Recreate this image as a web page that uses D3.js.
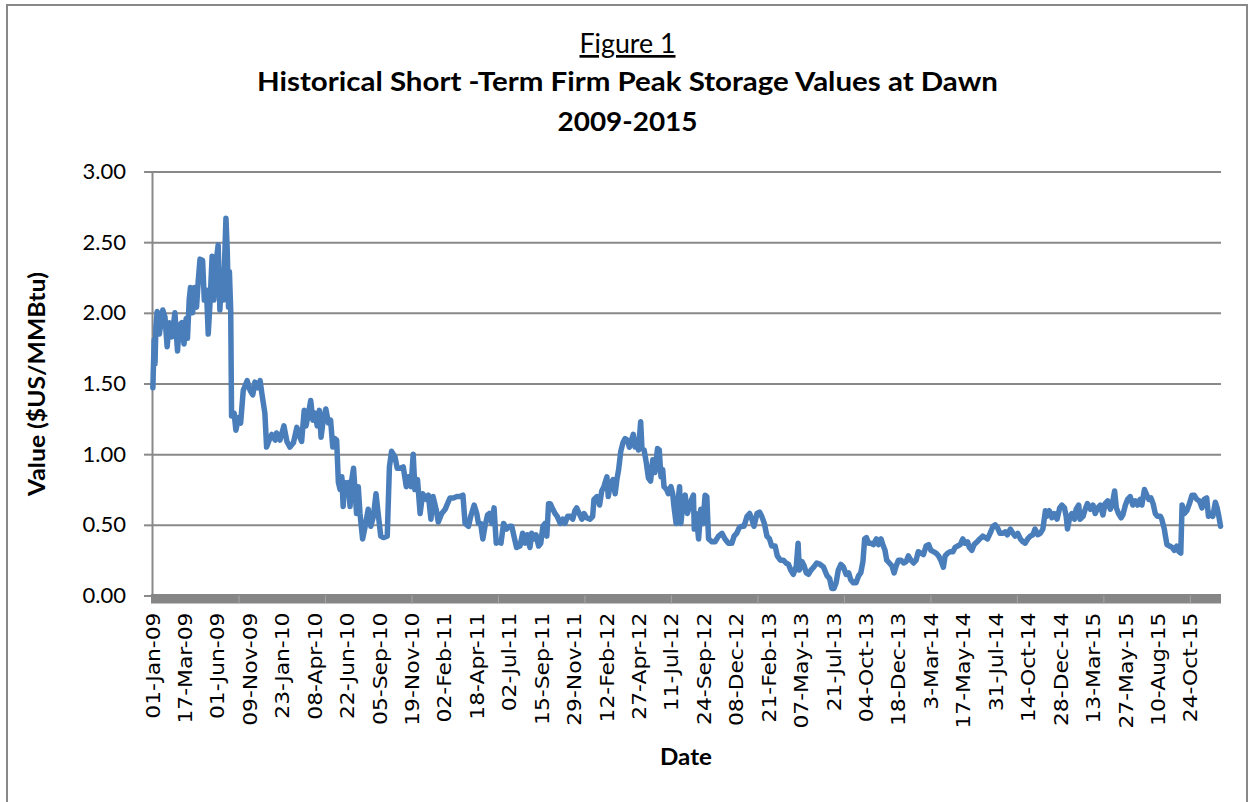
<!DOCTYPE html>
<html><head><meta charset="utf-8">
<script src="https://cdn.jsdelivr.net/npm/d3@7"></script>
<style>body{margin:0;background:#fff;} svg{display:block;}</style>
</head><body><svg id="c" width="1251" height="802"></svg>
<script>
// Category (day) axis labels, one every 75 categories
const tickLabels = ["01-Jan-09","17-Mar-09","01-Jun-09","09-Nov-09","23-Jan-10","08-Apr-10","22-Jun-10","05-Sep-10","19-Nov-10","02-Feb-11","18-Apr-11","02-Jul-11","15-Sep-11","29-Nov-11","12-Feb-12","27-Apr-12","11-Jul-12","24-Sep-12","08-Dec-12","21-Feb-13","07-May-13","21-Jul-13","04-Oct-13","18-Dec-13","3-Mar-14","17-May-14","31-Jul-14","14-Oct-14","28-Dec-14","13-Mar-15","27-May-15","10-Aug-15","24-Oct-15"];
const yTicks = [0, 0.5, 1, 1.5, 2, 2.5, 3];
const categoryCount = 2473;
const labelEvery = 75;
const minorEvery = 200;

// [category index, value $US/MMBtu]
const seg2009 = [[2,1.47],[5,1.81],[7,1.64],[9,1.90],[12,2.01],[17,1.85],[25,2.02],[30,1.97],[35,1.76],[40,1.93],[46,1.83],[53,2.00],[59,1.73],[63,1.91],[69,1.93],[74,1.78],[79,1.96],[82,1.82],[86,2.09],[89,2.18],[94,2.00],[98,2.18],[103,2.04],[107,2.23],[111,2.38],[117,2.37],[121,2.09],[126,2.16],[130,1.85],[134,2.06],[139,2.40],[143,2.09],[148,2.35],[153,2.48],[157,2.02],[161,2.28],[165,2.09],[171,2.67],[174,2.44],[177,2.04],[179,2.29],[182,2.02],[184,1.27],[190,1.29],[194,1.17],[200,1.26],[205,1.22],[211,1.45],[220,1.52],[227,1.45],[233,1.42],[238,1.51],[244,1.47],[250,1.52],[254,1.43],[261,1.29],[265,1.05],[271,1.10],[277,1.14],[285,1.10],[288,1.15],[296,1.10],[305,1.20],[312,1.09],[319,1.05],[327,1.08],[335,1.19],[342,1.12]];
const seg2010 = [[346,1.09],[352,1.31],[356,1.20],[362,1.29],[367,1.38],[372,1.24],[377,1.29],[382,1.20],[387,1.31],[391,1.12],[396,1.24],[402,1.32],[408,1.22],[413,1.24],[418,1.05],[423,1.11],[427,1.10],[431,0.80],[435,0.75],[439,0.84],[442,0.63],[446,0.80],[450,0.72],[454,0.80],[458,0.63],[462,0.82],[466,0.90],[470,0.72],[473,0.58],[477,0.77],[481,0.58],[487,0.40],[493,0.49],[500,0.61],[506,0.49],[512,0.56],[518,0.72],[523,0.58],[529,0.42],[535,0.41],[544,0.42],[549,0.91],[554,1.02],[562,0.98],[567,0.90],[574,0.90],[581,0.91],[588,0.77],[593,0.84],[599,0.77],[604,1.00],[608,0.75],[614,0.82],[620,0.58],[626,0.72],[634,0.68],[639,0.71],[645,0.54],[650,0.70],[657,0.61],[662,0.52],[670,0.58],[678,0.61],[682,0.64],[689,0.69],[697,0.69],[705,0.70],[712,0.70],[719,0.71],[724,0.51],[732,0.49],[737,0.56]];
const seg2011 = [[745,0.64],[751,0.58],[755,0.51],[760,0.51],[765,0.40],[770,0.49],[776,0.57],[780,0.58],[786,0.51],[791,0.62],[796,0.37],[801,0.38],[807,0.37],[813,0.51],[820,0.47],[827,0.49],[832,0.49],[837,0.42],[843,0.34],[851,0.35],[857,0.44],[863,0.37],[868,0.43],[874,0.34],[878,0.44],[884,0.40],[888,0.43],[894,0.35],[899,0.37],[904,0.49],[909,0.51],[913,0.42],[917,0.65],[921,0.65],[927,0.61],[932,0.58],[937,0.56],[944,0.51],[950,0.54],[955,0.51],[961,0.56],[967,0.56],[973,0.54],[978,0.60],[982,0.62],[988,0.58],[994,0.54],[999,0.58],[1005,0.55],[1013,0.54],[1019,0.56],[1022,0.68],[1029,0.70],[1035,0.64],[1040,0.74],[1045,0.77],[1052,0.84],[1055,0.70],[1059,0.77],[1066,0.82],[1071,0.72],[1075,0.82],[1079,0.89],[1084,1.02],[1089,1.08],[1094,1.11],[1099,1.10],[1104,1.05],[1110,1.11],[1113,1.14],[1117,1.05],[1121,1.10],[1125,1.03],[1130,1.23],[1133,1.04],[1138,1.03],[1143,0.94],[1148,0.83]];
const seg2012 = [[1153,0.81],[1158,0.96],[1163,0.87],[1169,1.04],[1173,1.03],[1177,0.84],[1181,0.89],[1184,0.77],[1190,0.75],[1194,0.72],[1200,0.77],[1204,0.72],[1207,0.63],[1212,0.51],[1215,0.63],[1220,0.77],[1223,0.51],[1227,0.63],[1233,0.71],[1238,0.58],[1243,0.63],[1248,0.68],[1252,0.71],[1254,0.47],[1258,0.58],[1264,0.40],[1269,0.61],[1274,0.51],[1279,0.71],[1283,0.70],[1287,0.40],[1295,0.38],[1302,0.38],[1310,0.42],[1318,0.44],[1325,0.40],[1333,0.37],[1341,0.37],[1346,0.42],[1352,0.44],[1358,0.48],[1364,0.49],[1369,0.49],[1376,0.56],[1382,0.58],[1387,0.54],[1392,0.49],[1399,0.58],[1405,0.59],[1410,0.56],[1416,0.51],[1422,0.42],[1428,0.40],[1433,0.35],[1441,0.35],[1446,0.28],[1453,0.25],[1460,0.25],[1466,0.23],[1472,0.22],[1477,0.18],[1483,0.15],[1490,0.21],[1494,0.37],[1497,0.18],[1503,0.24],[1508,0.21],[1513,0.16],[1518,0.15],[1524,0.18],[1530,0.20],[1537,0.23]];
const seg2013 = [[1545,0.22],[1553,0.20],[1561,0.14],[1567,0.12],[1572,0.05],[1577,0.05],[1582,0.09],[1587,0.18],[1593,0.22],[1599,0.20],[1605,0.15],[1611,0.16],[1616,0.11],[1622,0.09],[1628,0.09],[1634,0.14],[1639,0.16],[1644,0.24],[1648,0.40],[1652,0.41],[1657,0.37],[1662,0.37],[1668,0.36],[1675,0.40],[1680,0.36],[1686,0.40],[1690,0.36],[1695,0.32],[1699,0.25],[1705,0.23],[1711,0.21],[1716,0.16],[1721,0.21],[1726,0.25],[1732,0.25],[1738,0.23],[1744,0.24],[1749,0.28],[1755,0.25],[1761,0.23],[1767,0.25],[1772,0.31],[1778,0.30],[1784,0.29],[1790,0.35],[1796,0.36],[1801,0.32],[1807,0.31],[1813,0.30],[1819,0.28],[1824,0.25],[1830,0.20],[1834,0.28],[1840,0.30],[1846,0.31],[1852,0.31],[1857,0.34],[1863,0.35],[1869,0.36],[1875,0.40],[1880,0.37],[1886,0.38],[1890,0.34],[1896,0.32],[1901,0.36],[1908,0.38],[1914,0.40]];
const seg2014 = [[1921,0.42],[1927,0.41],[1932,0.40],[1938,0.44],[1945,0.49],[1950,0.50],[1955,0.48],[1961,0.44],[1968,0.44],[1973,0.45],[1978,0.43],[1985,0.47],[1991,0.44],[1996,0.42],[2002,0.44],[2008,0.40],[2014,0.38],[2019,0.37],[2025,0.40],[2031,0.42],[2037,0.43],[2042,0.47],[2048,0.43],[2054,0.44],[2060,0.47],[2066,0.60],[2069,0.56],[2075,0.60],[2081,0.55],[2086,0.58],[2093,0.54],[2099,0.62],[2104,0.64],[2110,0.62],[2114,0.56],[2117,0.47],[2122,0.55],[2127,0.58],[2133,0.54],[2137,0.61],[2143,0.64],[2146,0.54],[2153,0.56],[2158,0.61],[2163,0.65],[2170,0.61],[2176,0.64],[2181,0.58],[2187,0.62],[2193,0.64],[2199,0.57],[2204,0.65],[2210,0.67],[2216,0.61],[2222,0.67],[2226,0.74],[2230,0.62],[2235,0.58],[2241,0.55],[2245,0.57],[2251,0.64],[2256,0.68],[2262,0.70]];
const seg2015 = [[2268,0.64],[2274,0.67],[2279,0.64],[2285,0.68],[2289,0.64],[2295,0.75],[2299,0.72],[2305,0.68],[2310,0.69],[2315,0.65],[2320,0.58],[2325,0.56],[2332,0.56],[2335,0.54],[2341,0.47],[2343,0.43],[2347,0.36],[2353,0.35],[2359,0.34],[2364,0.32],[2370,0.35],[2375,0.31],[2379,0.30],[2382,0.64],[2387,0.58],[2393,0.60],[2399,0.65],[2405,0.71],[2410,0.71],[2416,0.68],[2422,0.67],[2428,0.62],[2433,0.68],[2439,0.69],[2443,0.56],[2448,0.58],[2453,0.56],[2459,0.66],[2463,0.62],[2467,0.56],[2471,0.49]];

const data = [].concat(seg2009, seg2010, seg2011, seg2012, seg2013, seg2014, seg2015)
  .map(([i, v]) => ({ i, v }))
  .sort((a, b) => a.i - b.i);

const svg = d3.select("#c");
const gridColor = "#898989";
const labelFont = "Lato, 'Open Sans', sans-serif";

// outer border
svg.append("rect").attr("x", 7).attr("y", 5).attr("width", 1240).attr("height", 810)
  .attr("fill", "#fff").attr("stroke", "#888").attr("stroke-width", 2);

const x = d3.scaleLinear().domain([0, categoryCount - 1]).range([152, 1221]);
const y = d3.scaleLinear().domain([0, 3]).range([595.5, 171.5]);

// gridlines
const grid = d3.axisLeft(y).tickValues(yTicks).tickSize(-(x.range()[1] - x.range()[0])).tickFormat("");
const gg = svg.append("g").attr("transform", `translate(${x.range()[0]},0)`).call(grid);
gg.select(".domain").remove();
gg.selectAll("line").attr("stroke", gridColor).attr("stroke-width", 2);

// y axis
const yAxis = d3.axisLeft(y).tickValues(yTicks).tickSize(8).tickPadding(18).tickFormat(d3.format(".2f"));
const ya = svg.append("g").attr("transform", `translate(${x.range()[0]},0)`).call(yAxis);
ya.select(".domain").attr("stroke", gridColor).attr("stroke-width", 2);
ya.selectAll("line").attr("stroke", gridColor).attr("stroke-width", 2);
ya.selectAll("text").attr("font-family", labelFont).attr("font-size", 22).attr("fill", "#000");

// x axis thick band
svg.append("rect").attr("x", x.range()[0] - 1).attr("y", y(0) - 1.5)
  .attr("width", x.range()[1] - x.range()[0] + 1).attr("height", 9.5).attr("fill", "#868686");
const minor = d3.axisBottom(x).tickValues(d3.range(minorEvery, categoryCount, minorEvery)).tickSize(8).tickFormat("");
const mg = svg.append("g").attr("transform", `translate(0,${y(0)})`).call(minor);
mg.select(".domain").remove();
mg.selectAll("line").attr("stroke", "#a6a6a6").attr("stroke-width", 1);

// x tick labels
const labelIdx = tickLabels.map((_, k) => k * labelEvery);
const xAxis = d3.axisBottom(x).tickValues(labelIdx).tickSize(0).tickFormat((d, k) => tickLabels[k]);
const xa = svg.append("g").attr("transform", `translate(0,${y(0)})`).call(xAxis);
xa.select(".domain").remove();
xa.selectAll(".tick text")
  .attr("font-family", "'DejaVu Sans', sans-serif").attr("font-size", 19.5).attr("fill", "#000")
  .attr("text-anchor", "end").attr("dy", "0.36em").attr("y", 0).attr("x", 0)
  .attr("transform", "translate(0,17) rotate(-90) scale(1.12,1)");

// line
const line = d3.line().x(d => x(d.i)).y(d => y(d.v));
svg.append("path").datum(data).attr("d", line).attr("fill", "none")
  .attr("stroke", "#4A7EBB").attr("stroke-width", 5.5)
  .attr("stroke-linejoin", "round").attr("stroke-linecap", "round");

// titles
const cx = 627.5;
svg.append("text").attr("x", cx).attr("y", 53).attr("text-anchor", "middle")
  .attr("font-family", labelFont).attr("font-size", 27).attr("text-decoration", "underline")
  .attr("textLength", 96).attr("lengthAdjust", "spacingAndGlyphs").text("Figure 1");
svg.append("text").attr("x", cx).attr("y", 91).attr("text-anchor", "middle")
  .attr("font-family", labelFont).attr("font-weight", "bold").attr("font-size", 27)
  .attr("textLength", 741).attr("lengthAdjust", "spacingAndGlyphs")
  .text("Historical Short -Term Firm Peak Storage Values at Dawn");
svg.append("text").attr("x", cx).attr("y", 131).attr("text-anchor", "middle")
  .attr("font-family", labelFont).attr("font-weight", "bold").attr("font-size", 27)
  .attr("textLength", 140).attr("lengthAdjust", "spacingAndGlyphs").text("2009-2015");

// axis titles
svg.append("text").attr("transform", "translate(37,384) rotate(-90)").attr("text-anchor", "middle")
  .attr("dy", "0.35em").attr("font-family", labelFont).attr("font-weight", "bold").attr("font-size", 22)
  .attr("textLength", 224).attr("lengthAdjust", "spacingAndGlyphs").text("Value ($US/MMBtu)");
svg.append("text").attr("x", 686).attr("y", 757).attr("text-anchor", "middle").attr("dy", "0.35em")
  .attr("font-family", labelFont).attr("font-weight", "bold").attr("font-size", 22)
  .attr("textLength", 52).attr("lengthAdjust", "spacingAndGlyphs").text("Date");
</script>
</body></html>
